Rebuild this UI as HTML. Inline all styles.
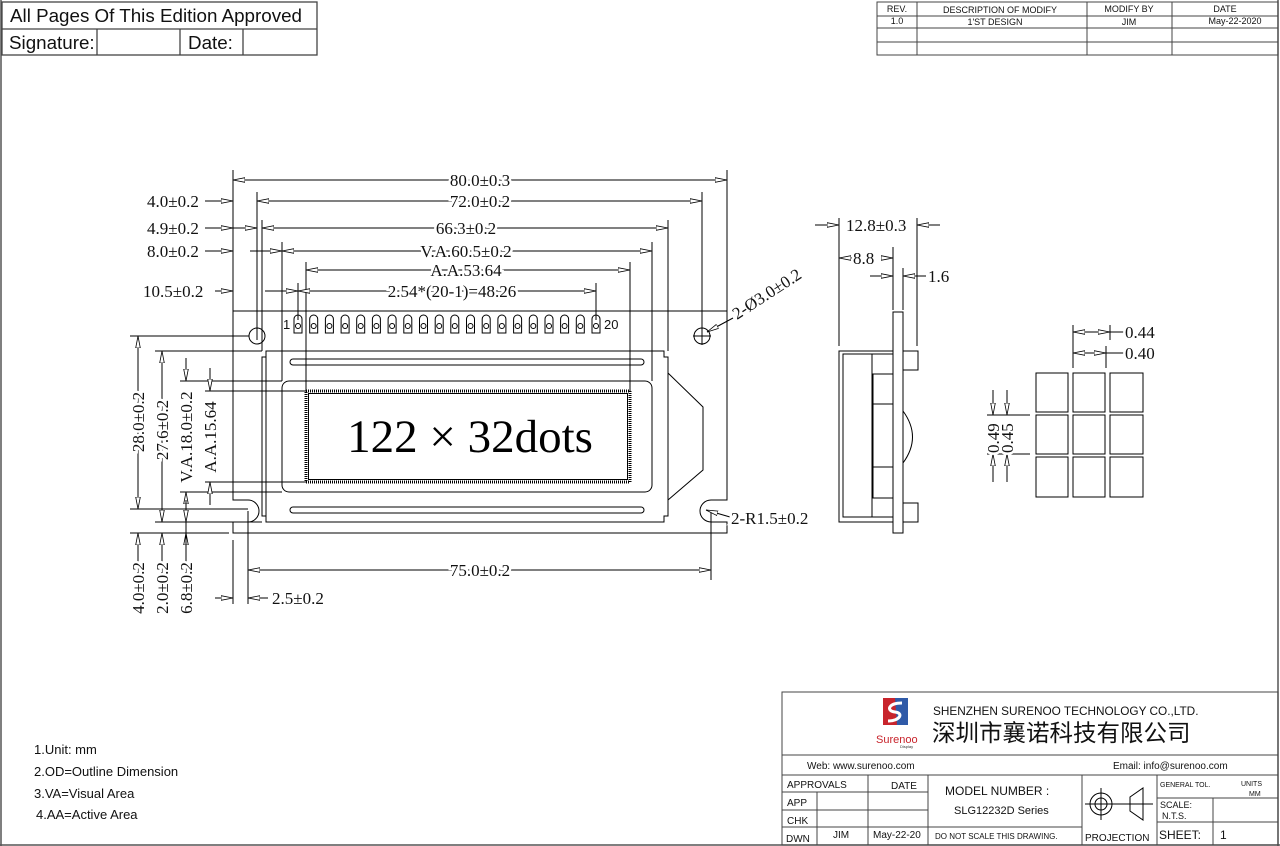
<!DOCTYPE html>
<html><head><meta charset="utf-8"><style>
html,body{margin:0;padding:0;background:#fff}
svg{display:block}
.d{font-family:"Liberation Serif",serif;font-size:17px;fill:#111;paint-order:stroke;stroke:#fff;stroke-width:5px}
.s{font-family:"Liberation Sans","Noto Sans CJK SC",sans-serif;fill:#111}
</style></head><body>
<svg width="1280" height="846" viewBox="0 0 1280 846" xmlns="http://www.w3.org/2000/svg">
<defs>
<marker id="a" viewBox="0 -3 12 6" refX="12" refY="0" markerWidth="12" markerHeight="6" markerUnits="userSpaceOnUse" orient="auto-start-reverse">
<path d="M0,-2.3 L12,0 L0,2.3 Z" fill="#fff" stroke="#000" stroke-width="0.8"/></marker>
</defs>
<rect x="0" y="0" width="1280" height="846" fill="#fff"/>
<g fill="none" stroke="#555" stroke-width="1.5">
<line x1="1" y1="0" x2="1" y2="846"/><line x1="1278" y1="0" x2="1278" y2="846"/><line x1="0" y1="845" x2="1280" y2="845"/>
</g>
<g fill="none" stroke="#444" stroke-width="1.3">
<rect x="2" y="2" width="315" height="53"/><line x1="2" y1="29" x2="317" y2="29"/>
<line x1="97" y1="29" x2="97" y2="55"/><line x1="180" y1="29" x2="180" y2="55"/><line x1="243" y1="29" x2="243" y2="55"/>
</g>
<text class="s" x="10" y="22" font-size="18.8">All Pages Of This Edition Approved</text>
<text class="s" x="9" y="49" font-size="18.8">Signature:</text>
<text class="s" x="188" y="49" font-size="18.8">Date:</text>
<g fill="none" stroke="#444" stroke-width="1">
<rect x="877" y="2" width="401" height="53"/>
<line x1="877" y1="16" x2="1278" y2="16"/><line x1="877" y1="28" x2="1278" y2="28"/><line x1="877" y1="42" x2="1278" y2="42"/>
<line x1="917" y1="2" x2="917" y2="55"/><line x1="1087" y1="2" x2="1087" y2="55"/><line x1="1172" y1="2" x2="1172" y2="55"/>
</g>
<g class="s" font-size="9" text-anchor="middle">
<text x="897" y="12">REV.</text><text x="1000" y="13">DESCRIPTION OF MODIFY</text><text x="1129" y="12">MODIFY BY</text><text x="1225" y="12">DATE</text>
<text x="897" y="24">1.0</text><text x="995" y="25">1'ST DESIGN</text><text x="1129" y="25">JIM</text><text x="1235" y="24">May-22-2020</text>
</g>

<g fill="none" stroke="#000" stroke-width="1">
<path d="M233,311 H727 V500 H711 A11,11 0 0 0 711,522 H727 V533 H233 V522 H248 A11,11 0 0 0 248,500 H233 Z"/>
<path d="M262,357 H266 V351 H664 V357 H668 V516 H664 V522 H266 V516 H262 Z"/>
<line x1="266" y1="357" x2="266" y2="516"/>
<rect x="290" y="359" width="354" height="6" rx="3"/>
<rect x="290" y="507" width="354" height="6" rx="3"/>
<rect x="282" y="381" width="370" height="111" rx="7"/>
<rect x="306" y="391" width="324" height="91" stroke-width="3" stroke-dasharray="1 1"/>
<rect x="308.5" y="393.5" width="319" height="86"/>
<polyline points="668,373 703,407 703,470 668,500"/>
<circle cx="257" cy="336" r="8"/><circle cx="702" cy="336" r="8"/>
<line x1="693" y1="336" x2="711" y2="336"/><line x1="702" y1="327" x2="702" y2="345"/>
<line x1="233" y1="170" x2="233" y2="311"/><line x1="727" y1="170" x2="727" y2="311"/>
<line x1="257" y1="192" x2="257" y2="340"/><line x1="702" y1="192" x2="702" y2="330"/>
<line x1="262" y1="220" x2="262" y2="351"/><line x1="668" y1="220" x2="668" y2="351"/>
<line x1="282" y1="242" x2="282" y2="381"/><line x1="652" y1="242" x2="652" y2="381"/>
<line x1="306" y1="262" x2="306" y2="391"/><line x1="630" y1="262" x2="630" y2="391"/>
<line x1="298" y1="283" x2="298" y2="320"/><line x1="596" y1="283" x2="596" y2="320"/>
<line x1="130" y1="336" x2="249" y2="336"/>
<line x1="155" y1="351" x2="262" y2="351"/>
<line x1="180" y1="381" x2="282" y2="381"/>
<line x1="205" y1="391" x2="306" y2="391"/>
<line x1="205" y1="482" x2="306" y2="482"/>
<line x1="180" y1="492" x2="282" y2="492"/>
<line x1="130" y1="509" x2="248" y2="509"/>
<line x1="155" y1="522" x2="262" y2="522"/>
<line x1="130" y1="533" x2="229" y2="533"/>
<line x1="233" y1="540" x2="233" y2="604"/>
<line x1="248" y1="511" x2="248" y2="604"/>
<line x1="711" y1="511" x2="711" y2="580"/>
</g>
<g fill="none" stroke="#000" stroke-width="1">
<path d="M294,333 V319 A4,4 0 0 1 302,319 V333 Z"/><circle cx="298" cy="326" r="2.5"/>
<path d="M309.7,333 V319 A4,4 0 0 1 317.7,319 V333 Z"/><circle cx="313.7" cy="326" r="2.5"/>
<path d="M325.4,333 V319 A4,4 0 0 1 333.4,319 V333 Z"/><circle cx="329.4" cy="326" r="2.5"/>
<path d="M341.1,333 V319 A4,4 0 0 1 349.1,319 V333 Z"/><circle cx="345.1" cy="326" r="2.5"/>
<path d="M356.7,333 V319 A4,4 0 0 1 364.7,319 V333 Z"/><circle cx="360.7" cy="326" r="2.5"/>
<path d="M372.4,333 V319 A4,4 0 0 1 380.4,319 V333 Z"/><circle cx="376.4" cy="326" r="2.5"/>
<path d="M388.1,333 V319 A4,4 0 0 1 396.1,319 V333 Z"/><circle cx="392.1" cy="326" r="2.5"/>
<path d="M403.8,333 V319 A4,4 0 0 1 411.8,319 V333 Z"/><circle cx="407.8" cy="326" r="2.5"/>
<path d="M419.5,333 V319 A4,4 0 0 1 427.5,319 V333 Z"/><circle cx="423.5" cy="326" r="2.5"/>
<path d="M435.2,333 V319 A4,4 0 0 1 443.2,319 V333 Z"/><circle cx="439.2" cy="326" r="2.5"/>
<path d="M450.8,333 V319 A4,4 0 0 1 458.8,319 V333 Z"/><circle cx="454.8" cy="326" r="2.5"/>
<path d="M466.5,333 V319 A4,4 0 0 1 474.5,319 V333 Z"/><circle cx="470.5" cy="326" r="2.5"/>
<path d="M482.2,333 V319 A4,4 0 0 1 490.2,319 V333 Z"/><circle cx="486.2" cy="326" r="2.5"/>
<path d="M497.9,333 V319 A4,4 0 0 1 505.9,319 V333 Z"/><circle cx="501.9" cy="326" r="2.5"/>
<path d="M513.6,333 V319 A4,4 0 0 1 521.6,319 V333 Z"/><circle cx="517.6" cy="326" r="2.5"/>
<path d="M529.3,333 V319 A4,4 0 0 1 537.3,319 V333 Z"/><circle cx="533.3" cy="326" r="2.5"/>
<path d="M545,333 V319 A4,4 0 0 1 553,319 V333 Z"/><circle cx="549" cy="326" r="2.5"/>
<path d="M560.6,333 V319 A4,4 0 0 1 568.6,319 V333 Z"/><circle cx="564.6" cy="326" r="2.5"/>
<path d="M576.3,333 V319 A4,4 0 0 1 584.3,319 V333 Z"/><circle cx="580.3" cy="326" r="2.5"/>
<path d="M592,333 V319 A4,4 0 0 1 600,319 V333 Z"/><circle cx="596" cy="326" r="2.5"/>
</g>
<text class="s" x="283" y="329" font-size="13">1</text>
<text class="s" x="604" y="329" font-size="13">20</text>
<text x="470" y="452" font-family="Liberation Serif,serif" font-size="47" text-anchor="middle" fill="#000">122 × 32dots</text>

<g fill="none" stroke="#000" stroke-width="1" marker-start="url(#a)" marker-end="url(#a)">
<line x1="233" y1="180" x2="727" y2="180"/>
<line x1="257" y1="201" x2="702" y2="201"/>
<line x1="262" y1="228" x2="668" y2="228"/>
<line x1="282" y1="251" x2="652" y2="251"/>
<line x1="306" y1="270" x2="630" y2="270"/>
<line x1="298" y1="291" x2="596" y2="291"/>
<line x1="138" y1="336" x2="138" y2="509"/>
<line x1="162" y1="351" x2="162" y2="522"/>
<line x1="248" y1="570" x2="711" y2="570"/>
</g>
<g fill="none" stroke="#000" stroke-width="1" marker-end="url(#a)">
<line x1="205" y1="201" x2="233" y2="201"/>
<line x1="205" y1="228" x2="233" y2="228"/>
<line x1="233" y1="228" x2="257" y2="228"/>
<line x1="205" y1="251" x2="233" y2="251"/>
<line x1="250" y1="251" x2="282" y2="251"/>
<line x1="215" y1="291" x2="233" y2="291"/>
<line x1="265" y1="291" x2="298" y2="291"/>
<line x1="186" y1="358" x2="186" y2="381"/>
<line x1="186" y1="515" x2="186" y2="492"/>
<line x1="210" y1="368" x2="210" y2="391"/>
<line x1="210" y1="505" x2="210" y2="482"/>
<line x1="138" y1="558" x2="138" y2="533"/>
<line x1="162" y1="558" x2="162" y2="533"/>
<line x1="186" y1="500" x2="186" y2="522"/>
<line x1="186" y1="556" x2="186" y2="533"/>
<line x1="215" y1="598" x2="233" y2="598"/>
<line x1="268" y1="598" x2="248" y2="598"/>
<line x1="730" y1="517" x2="706" y2="510"/>
<line x1="733" y1="318" x2="707" y2="332"/>
</g>
<line x1="186" y1="522" x2="186" y2="600" stroke="#000"/>
<line x1="138" y1="556" x2="138" y2="600" stroke="#000"/>
<line x1="162" y1="556" x2="162" y2="600" stroke="#000"/>
<g class="d" text-anchor="middle">
<text x="480" y="186">80.0±0.3</text>
<text x="480" y="207">72.0±0.2</text>
<text x="466" y="234">66.3±0.2</text>
<text x="466" y="257">V.A.60.5±0.2</text>
<text x="466" y="276">A.A.53.64</text>
<text x="452" y="297">2.54*(20-1)=48.26</text>
<text x="480" y="576">75.0±0.2</text>
</g>
<g class="d">
<text x="147" y="207">4.0±0.2</text>
<text x="147" y="234">4.9±0.2</text>
<text x="147" y="257">8.0±0.2</text>
<text x="143" y="297">10.5±0.2</text>
<text x="272" y="604">2.5±0.2</text>
<text x="731" y="524">2-R1.5±0.2</text>
<text transform="translate(737,320) rotate(-33)">2-Ø3.0±0.2</text>
</g>
<g class="d" text-anchor="middle">
<text transform="translate(144,422) rotate(-90)">28.0±0.2</text>
<text transform="translate(168,430) rotate(-90)">27.6±0.2</text>
<text transform="translate(192,437) rotate(-90)">V.A.18.0±0.2</text>
<text transform="translate(216,437) rotate(-90)">A.A.15.64</text>
<text transform="translate(144,588) rotate(-90)">4.0±0.2</text>
<text transform="translate(168,588) rotate(-90)">2.0±0.2</text>
<text transform="translate(192,588) rotate(-90)">6.8±0.2</text>
</g>

<g fill="none" stroke="#000" stroke-width="1">
<rect x="893" y="312" width="10" height="221"/>
<rect x="839" y="351" width="54" height="171"/>
<polyline points="893,354 843,354 843,517 893,517"/>
<line x1="872" y1="354" x2="872" y2="517"/>
<rect x="873" y="374" width="20" height="124"/>
<line x1="873" y1="404" x2="893" y2="404"/><line x1="873" y1="467" x2="893" y2="467"/>
<path d="M903,411 Q922,437 903,463"/>
<rect x="903" y="351" width="15" height="19"/>
<rect x="903" y="503" width="15" height="19"/>
<line x1="839" y1="218" x2="839" y2="346"/>
<line x1="917" y1="218" x2="917" y2="346"/>
<line x1="893" y1="247" x2="893" y2="310"/>
<line x1="903" y1="268" x2="903" y2="310"/>
</g>
<g fill="none" stroke="#000" stroke-width="1" marker-end="url(#a)">
<line x1="815" y1="225" x2="839" y2="225"/>
<line x1="940" y1="225" x2="917" y2="225"/>
<line x1="853" y1="258" x2="839" y2="258"/>
<line x1="881" y1="258" x2="893" y2="258"/>
<line x1="870" y1="276" x2="893" y2="276"/>
<line x1="926" y1="276" x2="903" y2="276"/>
</g>
<g class="d">
<text x="846" y="231">12.8±0.3</text>
<text x="853" y="264">8.8</text>
<text x="928" y="282">1.6</text>
</g>

<g fill="none" stroke="#000" stroke-width="1">
<rect x="1036" y="373" width="32" height="39"/><rect x="1073" y="373" width="32" height="39"/><rect x="1110" y="373" width="33" height="39"/>
<rect x="1036" y="415" width="32" height="39"/><rect x="1073" y="415" width="32" height="39"/><rect x="1110" y="415" width="33" height="39"/>
<rect x="1036" y="457" width="32" height="40"/><rect x="1073" y="457" width="32" height="40"/><rect x="1110" y="457" width="33" height="40"/>
<line x1="1073" y1="325" x2="1073" y2="368"/>
<line x1="1110" y1="325" x2="1110" y2="340"/>
<line x1="1106" y1="346" x2="1106" y2="368"/>
<line x1="987" y1="415" x2="1030" y2="415"/>
<line x1="987" y1="454" x2="1030" y2="454"/>
<line x1="1110" y1="332" x2="1125" y2="332"/>
<line x1="1106" y1="353" x2="1125" y2="353"/>
</g>
<g fill="none" stroke="#000" stroke-width="1" marker-end="url(#a)">
<line x1="1094" y1="332" x2="1073" y2="332"/>
<line x1="1088" y1="332" x2="1110" y2="332"/>
<line x1="1094" y1="353" x2="1073" y2="353"/>
<line x1="1085" y1="353" x2="1106" y2="353"/>
<line x1="993" y1="390" x2="993" y2="415"/>
<line x1="1007" y1="390" x2="1007" y2="415"/>
<line x1="993" y1="482" x2="993" y2="454"/>
<line x1="1007" y1="482" x2="1007" y2="454"/>
</g>
<g class="d">
<text x="1125" y="338">0.44</text>
<text x="1125" y="359">0.40</text>
<text transform="translate(999,453) rotate(-90)">0.49</text>
<text transform="translate(1013,453) rotate(-90)">0.45</text>
</g>

<g class="s" font-size="13">
<text x="34" y="754">1.Unit: mm</text>
<text x="34" y="776">2.OD=Outline Dimension</text>
<text x="34" y="798">3.VA=Visual Area</text>
<text x="36" y="819">4.AA=Active Area</text>
</g>

<g fill="none" stroke="#444" stroke-width="1">
<rect x="782" y="692" width="496" height="153"/>
<line x1="782" y1="755" x2="1278" y2="755"/>
<line x1="782" y1="775" x2="1278" y2="775"/>
<line x1="868" y1="775" x2="868" y2="845"/>
<line x1="928" y1="775" x2="928" y2="845"/>
<line x1="1082" y1="775" x2="1082" y2="845"/>
<line x1="1157" y1="775" x2="1157" y2="845"/>
<line x1="782" y1="792" x2="928" y2="792"/>
<line x1="782" y1="810" x2="928" y2="810"/>
<line x1="782" y1="827" x2="1082" y2="827"/>
<line x1="817" y1="792" x2="817" y2="845"/>
<line x1="1157" y1="798" x2="1278" y2="798"/>
<line x1="1157" y1="822" x2="1278" y2="822"/>
<line x1="1213" y1="798" x2="1213" y2="845"/>
<line x1="1085" y1="804" x2="1153" y2="804" stroke="#000"/>
<line x1="1101" y1="788" x2="1101" y2="820" stroke="#000"/>
<circle cx="1101" cy="804" r="11" stroke="#000"/><circle cx="1101" cy="804" r="6" stroke="#000"/>
<polygon points="1130,797 1143,788 1143,820 1130,811" stroke="#000"/>
</g>
<rect x="883" y="698" width="25" height="27" fill="#c8242c"/>
<path d="M895,698 H908 V725 H897 Z" fill="#2f5aa8"/>
<path d="M902,703 C888,703 886,711 895,712 C904,713 900,721 888,721" stroke="#fff" stroke-width="3" fill="none"/>
<text x="876" y="743" font-family="Liberation Sans,sans-serif" font-size="11" fill="#c8242c">Surenoo</text>
<text x="900" y="748" font-family="Liberation Sans,sans-serif" font-size="4" fill="#333">Display</text>
<text class="s" x="933" y="715" font-size="11.8">SHENZHEN SURENOO TECHNOLOGY CO.,LTD.</text>
<text class="s" x="932" y="741" font-size="23.5">深圳市襄诺科技有限公司</text>
<g class="s" font-size="10">
<text x="807" y="769">Web: www.surenoo.com</text>
<text x="1113" y="769">Email: info@surenoo.com</text>
<text x="787" y="788">APPROVALS</text>
<text x="891" y="789">DATE</text>
<text x="787" y="806">APP</text>
<text x="787" y="824">CHK</text>
<text x="786" y="842">DWN</text>
<text x="833" y="838">JIM</text>
<text x="873" y="838">May-22-20</text>
<text x="945" y="795" font-size="12">MODEL NUMBER :</text>
<text x="954" y="814" font-size="11">SLG12232D Series</text>
<text x="935" y="839" font-size="8">DO NOT SCALE THIS DRAWING.</text>
<text x="1085" y="841">PROJECTION</text>
<text x="1160" y="787" font-size="7">GENERAL TOL.</text>
<text x="1241" y="786" font-size="7">UNITS</text>
<text x="1249" y="796" font-size="7">MM</text>
<text x="1160" y="808" font-size="9">SCALE:</text>
<text x="1162" y="819" font-size="9">N.T.S.</text>
<text x="1159" y="839" font-size="12">SHEET:</text>
<text x="1220" y="839" font-size="12">1</text>
</g>
</svg>
</body></html>
